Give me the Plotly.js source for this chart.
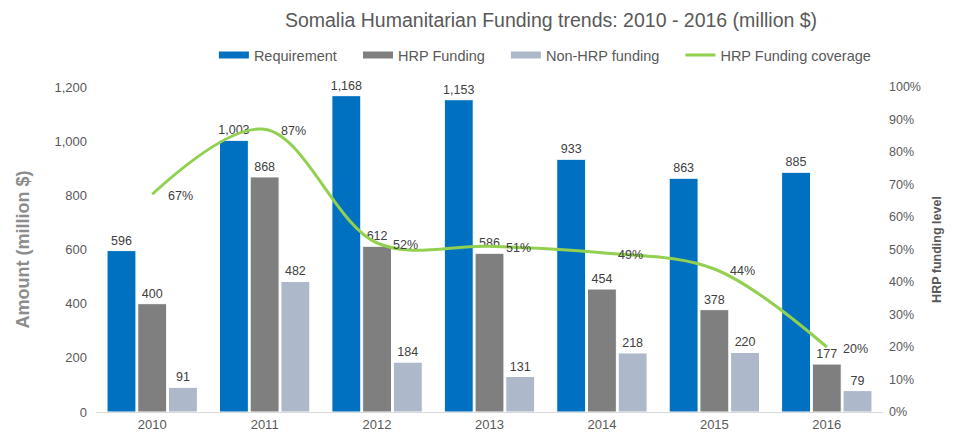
<!DOCTYPE html>
<html>
<head>
<meta charset="utf-8">
<script src="https://cdn.plot.ly/plotly-3.0.1.min.js"></script>
<style>html,body{margin:0;padding:0;background:#fff;}#chart{width:955px;height:437px;}</style>
</head>
<body>
<div id="chart"></div>
<script>
const years = ['2010','2011','2012','2013','2014','2015','2016'];
const requirement = [596, 1003, 1168, 1153, 933, 863, 885];
const hrpFunding = [400, 868, 612, 586, 454, 378, 177];
const nonHrpFunding = [91, 482, 184, 131, 218, 220, 79];
const coverage = [67, 87, 52, 51, 49, 44, 20];

const FONT = '"Liberation Sans", Arial, sans-serif';
const LABEL = {family: FONT, size: 12.5, color: '#404040'};
const fmt = v => v.toLocaleString('en-US');
const PAD = '\u00a0\u00a0\u00a0\u00a0';

function barTrace(name, vals, color) {
  return {
    type: 'bar', name: name, x: years, y: vals,
    marker: {color: color, line: {color: '#ffffff', width: 1}},
    text: vals.map(fmt), textposition: 'outside', textfont: LABEL,
    constraintext: 'none', cliponaxis: false, showlegend: false,
    hoverinfo: 'x+y'
  };
}
function legendTrace(name, color) {
  return {type: 'scatter', mode: 'lines', name: name + PAD, x: [null], y: [null],
          line: {color: color, width: 7}, hoverinfo: 'skip'};
}

const data = [
  barTrace('Requirement', requirement, '#0070C0'),
  barTrace('HRP Funding', hrpFunding, '#7F7F7F'),
  barTrace('Non-HRP funding', nonHrpFunding, '#ADB9CA'),
  legendTrace('Requirement', '#0070C0'),
  legendTrace('HRP Funding', '#7F7F7F'),
  legendTrace('Non-HRP funding', '#ADB9CA'),
  {
    type: 'scatter', mode: 'lines', name: 'HRP Funding coverage',
    x: years, y: coverage, yaxis: 'y2',
    line: {color: '#92D050', width: 3, shape: 'spline', smoothing: 1}
  }
];

// category axis: annotation x is the category's serial index
const coverageLabels = years.map((yr, i) => ({
  x: i, y: coverage[i], xref: 'x', yref: 'y2',
  text: coverage[i] + '%', showarrow: false,
  xanchor: 'left', yanchor: 'middle', xshift: 14, yshift: -2,
  font: LABEL
}));

const layout = {
  width: 955, height: 437,
  margin: {l: 96, r: 72, t: 87, b: 25},
  paper_bgcolor: '#ffffff', plot_bgcolor: '#ffffff',
  font: {family: FONT, size: 13, color: '#595959'},
  title: {text: 'Somalia Humanitarian Funding trends: 2010 - 2016 (million $)',
          font: {family: FONT, size: 19.5, color: '#595959'},
          xref: 'container', x: 0.577, xanchor: 'center',
          yref: 'container', y: 0.954, yanchor: 'middle'},
  barmode: 'group', bargap: 0.18, bargroupgap: 0.06,
  showlegend: true,
  legend: {orientation: 'h', x: 0.571, xanchor: 'center', y: 1.098, yanchor: 'middle',
           font: {family: FONT, size: 14.5, color: '#595959'}, traceorder: 'normal'},
  xaxis: {type: 'category', showline: true, linecolor: '#D9D9D9', linewidth: 1,
          ticks: '', showgrid: false, tickfont: {size: 13, color: '#595959'}},
  yaxis: {range: [0, 1200], dtick: 200, tickformat: ',', showgrid: false, zeroline: false,
          showline: false, ticks: '', tickfont: {size: 13, color: '#595959'}, ticklabelstandoff: 8,
          title: {text: '<b>Amount (million $)</b>', font: {size: 18, color: '#8C8C8C'}, standoff: 20}},
  yaxis2: {overlaying: 'y', side: 'right', range: [0, 100], dtick: 10, ticksuffix: '%',
           showgrid: false, zeroline: false, showline: false, ticks: '', ticklabelstandoff: 5,
           tickfont: {size: 12.5, color: '#595959'},
           title: {text: '<b>HRP funding level</b>', font: {size: 12.5, color: '#595959'}, standoff: 12}},
  annotations: coverageLabels
};

Plotly.newPlot('chart', data, layout, {displayModeBar: false, staticPlot: true});
</script>
</body>
</html>
